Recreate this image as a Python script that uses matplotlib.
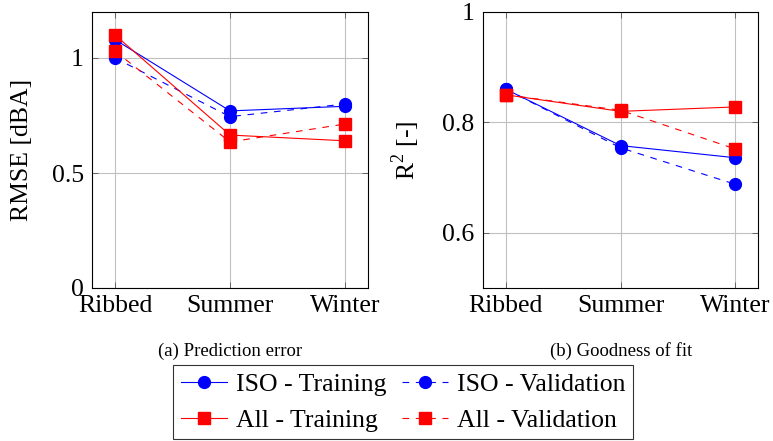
import numpy as np
import matplotlib.pyplot as plt

plt.rcParams['font.family'] = ['Liberation Serif', 'DejaVu Serif']
plt.rcParams['mathtext.fontset'] = 'custom'
plt.rcParams['mathtext.rm'] = 'Liberation Serif'

# Data
surfaces = ['Ribbed', 'Summer', 'Winter']

rmse_iso_train = [1.08, 0.77, 0.79]
rmse_iso_val = [1.00, 0.745, 0.80]
rmse_all_train = [1.10, 0.665, 0.64]
rmse_all_val = [1.03, 0.635, 0.713]

r2_iso_train = [0.86, 0.758, 0.736]
r2_iso_val = [0.86, 0.754, 0.688]
r2_all_train = [0.85, 0.82, 0.828]
r2_all_val = [0.85, 0.822, 0.752]

labels = ['ISO - Training', 'ISO - Validation', 'All - Training', 'All - Validation']

fig = plt.figure(figsize=(7.73, 4.41), dpi=100)
ax1 = fig.add_axes([92 / 773, 1 - 288 / 441, 276 / 773, 276 / 441])
ax2 = fig.add_axes([483 / 773, 1 - 288 / 441, 275 / 773, 276 / 441])

x = np.arange(len(surfaces))
fs = 18.5


def draw(ax, series):
    styles = [('blue', '-', 'o'), ('blue', '--', 'o'), ('red', '-', 's'), ('red', '--', 's')]
    handles = []
    for vals, (c, ls, m), lab in zip(series, styles, labels):
        h, = ax.plot(x, vals, color=c, linestyle=ls, marker=m, markersize=8.5,
                     linewidth=0.8, label=lab, zorder=3)
        if ls == '--':
            h.set_dashes((6, 6))
        handles.append(h)
    ax.set_xticks(x)
    ax.set_xticklabels(surfaces)
    ax.set_xlim(-0.2, 2.2)
    ax.grid(True, color='#c0c0c0', linewidth=0.8)
    ax.tick_params(direction='in', length=4, width=0.6, color='#555555',
                   top=True, right=True, labelsize=fs, pad=6)
    ax.tick_params(axis='x', pad=5)
    for sp in ax.spines.values():
        sp.set_linewidth(0.8)
    return handles


handles = draw(ax1, [rmse_iso_train, rmse_iso_val, rmse_all_train, rmse_all_val])
ax1.set_ylim(0, 1.2)
ax1.set_yticks([0, 0.5, 1])
ax1.set_yticklabels(['0', '0.5', '1'])
ax1.set_ylabel('RMSE [dBA]', fontsize=fs)
ax1.yaxis.set_label_coords(-0.215, 0.5)

draw(ax2, [r2_iso_train, r2_iso_val, r2_all_train, r2_all_val])
ax2.set_ylim(0.5, 1.0)
ax2.set_yticks([0.6, 0.8, 1])
ax2.set_yticklabels(['0.6', '0.8', '1'])
ax2.set_ylabel(r'R$^2$ [-]', fontsize=fs)
ax2.yaxis.set_label_coords(-0.22, 0.5)

fig.text(230 / 773, 1 - 351 / 441, '(a) Prediction error', ha='center', va='center', fontsize=13.5)
fig.text(621 / 773, 1 - 351 / 441, '(b) Goodness of fit', ha='center', va='center', fontsize=13.5)

# legend filled row by row: ISO on top, All below
order = [0, 2, 1, 3]
leg = fig.legend([handles[i] for i in order], [labels[i] for i in order], ncol=2,
                 loc='upper center', bbox_to_anchor=(403 / 773, 1 - 365 / 441),
                 fontsize=fs, frameon=True, fancybox=False, edgecolor='black',
                 handlelength=1.8, handletextpad=0.35, columnspacing=0.6,
                 borderpad=0.3, labelspacing=0.5, borderaxespad=0)
leg.get_frame().set_linewidth(0.8)

fig.savefig('out.png', dpi=100)
